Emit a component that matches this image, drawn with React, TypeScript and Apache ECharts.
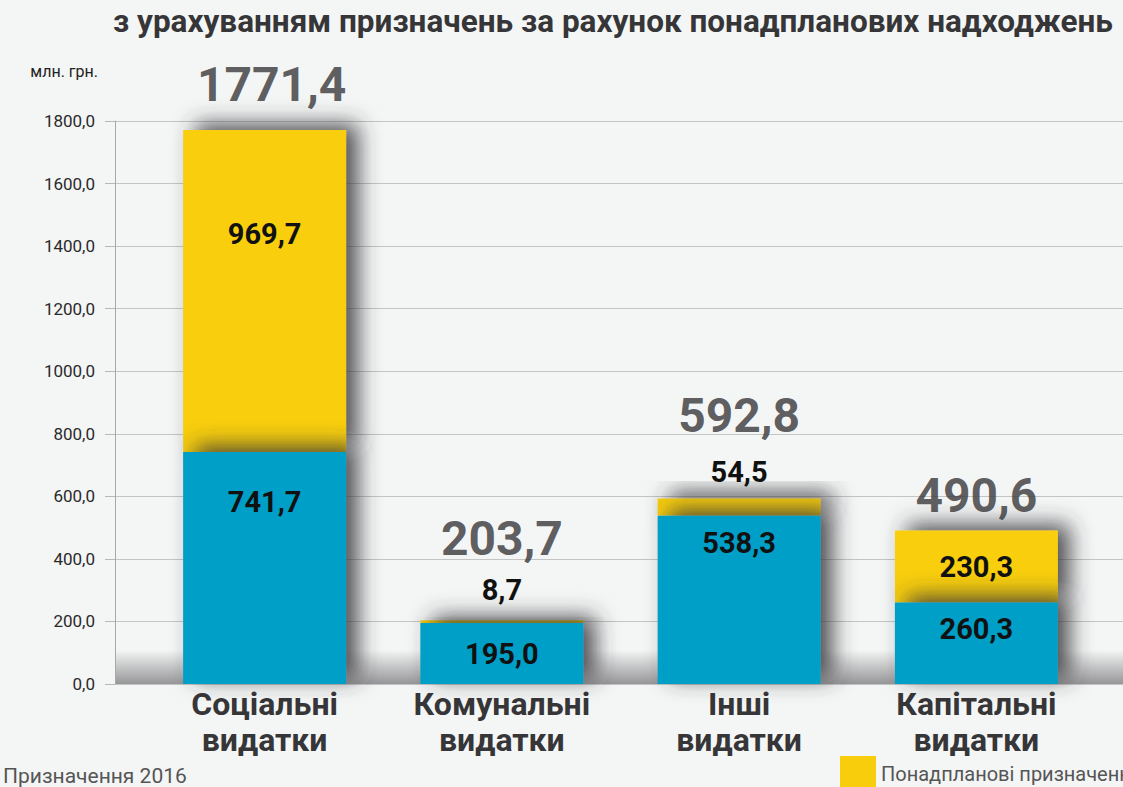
import React, { useEffect, useRef } from "react";
import * as echarts from "echarts";

const categories = ["Соціальні\nвидатки", "Комунальні\nвидатки", "Інші\nвидатки", "Капітальні\nвидатки"];
const baseValues = [741.7, 195.0, 538.3, 260.3];
// bar heights of the extra part (the first bar is drawn up to its total of 1771,4)
const extraValues = [1029.7, 8.7, 54.5, 230.3];
// labels printed on the extra part, as in the picture
const extraLabels = ["969,7", "8,7", "54,5", "230,3"];
const totals = [1771.4, 203.7, 592.8, 490.6];
const yTicks = [0, 200, 400, 600, 800, 1000, 1200, 1400, 1600, 1800];

const titleText = "з урахуванням призначень за рахунок понадпланових надходжень";
const baseName = "Призначення 2016";
const extraName = "Понадпланові призначення";
const unitName = "млн. грн.";

const fmt = (v: number) => v.toFixed(1).replace(".", ",");

const baseLabelPlace = [
  { position: "insideTop", distance: 35 },
  { position: "inside", distance: 0 },
  { position: "insideTop", distance: 13 },
  { position: "insideTop", distance: 12 },
];
const extraLabelPlace = [
  { position: "insideTop", distance: 90 },
  { position: "top", distance: 16 },
  { position: "top", distance: 12 },
  { position: "inside", distance: 0 },
];
const totalLabelPlace = [
  { distance: 21, offset: [7, 0] },
  { distance: 58, offset: [0, 0] },
  { distance: 59, offset: [0, 0] },
  { distance: 11, offset: [0, 0] },
];

const BLUE = "#009fc8";
const YELLOW = "#f8ce0c";
const DARK = "#363638";
const FONT = "Roboto";

export default function App() {
  const ref = useRef<HTMLDivElement>(null);
  useEffect(() => {
    if (!ref.current) return;
    const chart = echarts.init(ref.current, null, { renderer: "svg" });
    const shadow = {
      shadowBlur: 22,
      shadowColor: "rgba(50,50,52,0.85)",
      shadowOffsetX: 12,
      shadowOffsetY: -6,
    };
    const valueLabel = {
      show: true,
      color: "#111",
      fontFamily: FONT,
      fontWeight: "bold" as const,
      fontSize: 29,
    };
    chart.setOption({
      animation: false,
      backgroundColor: "#f4f5f5",
      title: {
        text: titleText,
        left: 108,
        top: 0,
        textStyle: { fontFamily: FONT, fontWeight: "bold", fontSize: 31.5, color: DARK },
      },
      legend: [
        {
          data: [baseName],
          left: -43,
          top: 760,
          itemWidth: 36,
          itemHeight: 20,
          itemGap: 10,
          icon: "rect",
          textStyle: { fontFamily: FONT, fontSize: 21, color: "#555" },
        },
        {
          data: [extraName],
          left: 835,
          top: 751,
          itemWidth: 36,
          itemHeight: 36,
          icon: "rect",
          textStyle: { fontFamily: FONT, fontSize: 20, color: "#555" },
        },
      ],
      graphic: [
        {
          type: "rect",
          z: -1,
          shape: { x: 115, y: 650, width: 1008, height: 34 },
          style: {
            fill: new echarts.graphic.LinearGradient(0, 0, 0, 1, [
              { offset: 0, color: "rgba(244,245,245,1)" },
              { offset: 1, color: "rgba(150,150,152,1)" },
            ]),
          },
        },
      ],
      grid: [
        { left: 115, right: 0, top: 121, bottom: 103 },
        { left: 146, width: 949, top: 121, bottom: 103 },
      ],
      xAxis: [
        {
          gridIndex: 0,
          type: "category",
          data: categories,
          axisLine: { show: false },
          axisTick: { show: false },
          axisLabel: { show: false },
        },
        {
          gridIndex: 1,
          type: "category",
          data: categories,
          axisLine: { show: false },
          axisTick: { show: false },
          axisLabel: {
            color: DARK,
            fontFamily: FONT,
            fontWeight: "bold",
            fontSize: 32,
            lineHeight: 36,
            margin: 2,
          },
        },
      ],
      yAxis: [
        {
          gridIndex: 0,
          type: "value",
          min: yTicks[0],
          max: yTicks[yTicks.length - 1],
          interval: 200,
          name: unitName,
          nameLocation: "end",
          nameGap: 42,
          nameTextStyle: {
            align: "right",
            padding: [0, 17, 0, 0],
            fontFamily: FONT,
            fontSize: 16,
            color: "#222",
          },
          axisLine: { show: true, lineStyle: { color: "#a8a8a8", width: 1 } },
          axisTick: { show: true, length: 10, lineStyle: { color: "#b8b8b8" } },
          axisLabel: {
            fontFamily: FONT,
            fontSize: 17,
            color: "#2a2a2a",
            margin: 20,
            formatter: (v: number) => fmt(v),
          },
          splitLine: { show: true, lineStyle: { color: "#c4c4c4", width: 1 } },
        },
        {
          gridIndex: 1,
          type: "value",
          min: yTicks[0],
          max: yTicks[yTicks.length - 1],
          interval: 200,
          show: false,
          splitLine: { show: false },
        },
      ],
      series: [
        {
          name: baseName,
          type: "bar",
          stack: "a",
          xAxisIndex: 1,
          yAxisIndex: 1,
          barWidth: 163,
          z: 3,
          itemStyle: { color: BLUE, ...shadow },
          data: baseValues.map((v, i) => ({
            value: v,
            label: { ...valueLabel, formatter: fmt(v), ...baseLabelPlace[i] },
          })),
        },
        {
          name: extraName,
          type: "bar",
          stack: "a",
          xAxisIndex: 1,
          yAxisIndex: 1,
          barWidth: 163,
          z: 2,
          itemStyle: { color: YELLOW, ...shadow },
          data: extraValues.map((v, i) => ({
            value: v,
            label: { ...valueLabel, formatter: extraLabels[i], ...extraLabelPlace[i] },
          })),
        },
        {
          name: "total",
          type: "scatter",
          xAxisIndex: 1,
          yAxisIndex: 1,
          symbolSize: 0,
          z: 5,
          data: totals.map((v, i) => ({
            value: v,
            label: {
              show: true,
              position: "top",
              color: DARK,
              fontFamily: FONT,
              fontWeight: "bold",
              fontSize: 48,
              formatter: fmt(v),
              ...totalLabelPlace[i],
            },
          })),
        },
      ],
    });
    return () => chart.dispose();
  }, []);
  return (
    <div
      ref={ref}
      style={{ position: "fixed", left: 0, top: 0, width: 1123, height: 787 }}
    />
  );
}
